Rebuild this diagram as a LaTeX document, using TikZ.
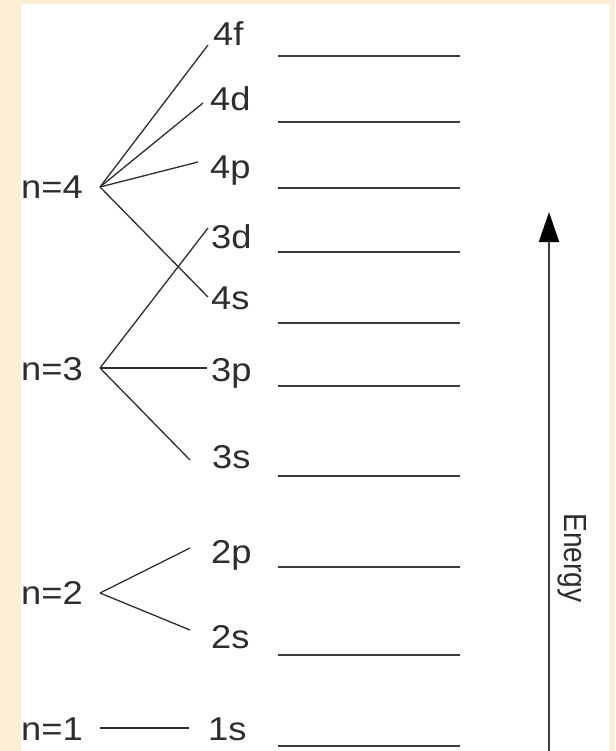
\documentclass[tikz,border=0pt]{standalone}
\usepackage{fontspec}
\setmainfont{Liberation Sans}
\newfontfamily\labfont[FakeStretch=1.1]{Liberation Sans}
\newfontfamily\enfont[FakeStretch=0.88]{Liberation Sans}
\usetikzlibrary{arrows.meta}
\definecolor{beige}{RGB}{252,238,212}
\definecolor{ink}{RGB}{45,45,45}
\definecolor{lvl}{RGB}{60,60,60}
\begin{document}
\begin{tikzpicture}[x=1pt,y=-1pt,
  lab/.style={font=\labfont\fontsize{33}{33}\selectfont, text=ink, inner sep=0pt, anchor=base west},
  conn/.style={draw=ink, line width=1.3pt},
  levelline/.style={draw=lvl, line width=2.2pt},
  axis/.style={draw=lvl, line width=2pt}]
\useasboundingbox (0,0) rectangle (615,751);
\fill[beige] (0,0) rectangle (615,751);
\fill[white] (21,4) rectangle (610,751);
% shell labels
\node[lab] (n4) at (21,199) {n=4};
\node[lab] (n3) at (21,380) {n=3};
\node[lab] (n2) at (21,604) {n=2};
\node[lab] (n1) at (21,740) {n=1};
% subshell labels
\node[lab] (l4f) at (213,46) {4f};
\node[lab] (l4d) at (210,111) {4d};
\node[lab] (l4p) at (210,179) {4p};
\node[lab] (l3d) at (211,248) {3d};
\node[lab] (l4s) at (211,309) {4s};
\node[lab] (l3p) at (211,381) {3p};
\node[lab] (l3s) at (212,468) {3s};
\node[lab] (l2p) at (211,563) {2p};
\node[lab] (l2s) at (211,648) {2s};
\node[lab] (l1s) at (208,740) {1s};
% junctions and connector ends
\coordinate (j4) at (100,187);
\coordinate (j3) at (100,368);
\coordinate (j2) at (100,593);
\coordinate (j1) at (100,728);
\coordinate (e4f) at (208,45);
\coordinate (e4d) at (203,103);
\coordinate (e4p) at (198,162);
\coordinate (e4s) at (208,297);
\coordinate (e3d) at (208,228);
\coordinate (e3p) at (207,368);
\coordinate (e3s) at (190,460);
\coordinate (e2p) at (190,548);
\coordinate (e2s) at (190,630);
\coordinate (e1s) at (189,728);
\draw[conn] (j4) -- (e4f);
\draw[conn] (j4) -- (e4d);
\draw[conn] (j4) -- (e4p);
\draw[conn] (j4) -- (e4s);
\draw[conn] (j3) -- (e3d);
\draw[conn] (j3) -- (e3p);
\draw[conn] (j3) -- (e3s);
\draw[conn] (j2) -- (e2p);
\draw[conn] (j2) -- (e2s);
\draw[conn] (j1) -- (e1s);
% energy levels
\foreach \yy in {56,122,188,252,323,386,476,567,655,746}
  \draw[levelline] (278,\yy) -- (460,\yy);
% energy axis
\coordinate (abot) at (549,751);
\coordinate (atop) at (549,212);
\draw[axis, -{Triangle[length=30pt,width=20pt,color=black,fill=black]}] (abot) -- (atop);
\node[rotate=-90, font=\enfont\fontsize{32}{32}\selectfont, text=ink, inner sep=0pt] (energy) at (572,558) {Energy};
\end{tikzpicture}
\end{document}
